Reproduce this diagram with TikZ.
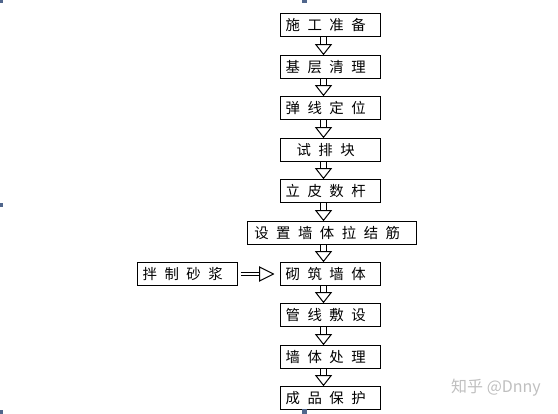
\documentclass[tikz,border=0pt]{standalone}
\usepackage{fontspec}
\newfontfamily\cjk{Noto Sans CJK SC}
\usetikzlibrary{arrows.meta}
\definecolor{handle}{HTML}{50668C}
\newcommand{\stepfont}{\cjk\fontsize{10.8pt}{12pt}\selectfont}

\tikzset{
  stepbox/.style={draw, line width=0.75pt, minimum width=75pt, minimum height=17pt,
    inner sep=0pt, font=\stepfont, execute at begin node={\spaceskip=0.52em\relax},
    execute at end node={\hspace{0.6em}}},
  downarrow/.style={double, line width=0.75pt, double distance=3.75pt, shorten <=0.4pt,
    -{Triangle[open, width=12.75pt, length=8.25pt, line width=0.75pt]}},
  sidearrow/.style={double, line width=0.75pt, double distance=1.9pt,
    shorten <=2.25pt, shorten >=3.75pt,
    -{Triangle[open, width=11.5pt, length=11.5pt, line width=0.75pt]}}
}

\begin{document}
\begin{tikzpicture}[x=0.75pt,y=-0.75pt]
 \useasboundingbox (0,0) rectangle (558,414);
 \def\cx{330}
 \coordinate (axis) at (323.5,0);
 % main column
 \node[stepbox] (prep)    at (\cx,25)  {施 工 准 备};
 \node[stepbox] (clean)   at (\cx,67)  {基 层 清 理};
 \node[stepbox] (line)    at (\cx,108) {弹 线 定 位};
 \node[stepbox] (trial)   at (\cx,150) {试 排 块};
 \node[stepbox] (rod)     at (\cx,191) {立 皮 数 杆};
 \node[stepbox, minimum width=126.75pt] (tie) at (331.5,233) {设 置 墙 体 拉 结 筋};
 \node[stepbox] (lay)     at (\cx,274) {砌 筑 墙 体};
 \node[stepbox] (pipe)    at (\cx,315) {管 线 敷 设};
 \node[stepbox] (treat)   at (\cx,357) {墙 体 处 理};
 \node[stepbox] (protect) at (\cx,398) {成 品 保 护};
 % side input
 \node[stepbox] (mortar)  at (187,274) {拌 制 砂 浆};
 % arrows
 \foreach \a/\b in {prep/clean,clean/line,line/trial,trial/rod,rod/tie,
                    tie/lay,lay/pipe,pipe/treat,treat/protect}
   \draw[downarrow] (axis |- \a.south) -- (axis |- \b.north);
 \draw[sidearrow] (mortar.east) -- (lay.west);
 % watermark
 \node[text=black!25, font=\cjk\fontsize{12pt}{13pt}\selectfont] (mark) at (496,388) {知乎 @Dnny};
% frame handles
 \fill[handle] (0,0) rectangle (3,3);
 \fill[handle] (0,203) rectangle (3,207);
 \fill[handle] (0,410) rectangle (3,414);
 \fill[handle] (302,0) rectangle (307,3);
 \fill[handle] (302,409) rectangle (307,414);
\end{tikzpicture}
\end{document}
